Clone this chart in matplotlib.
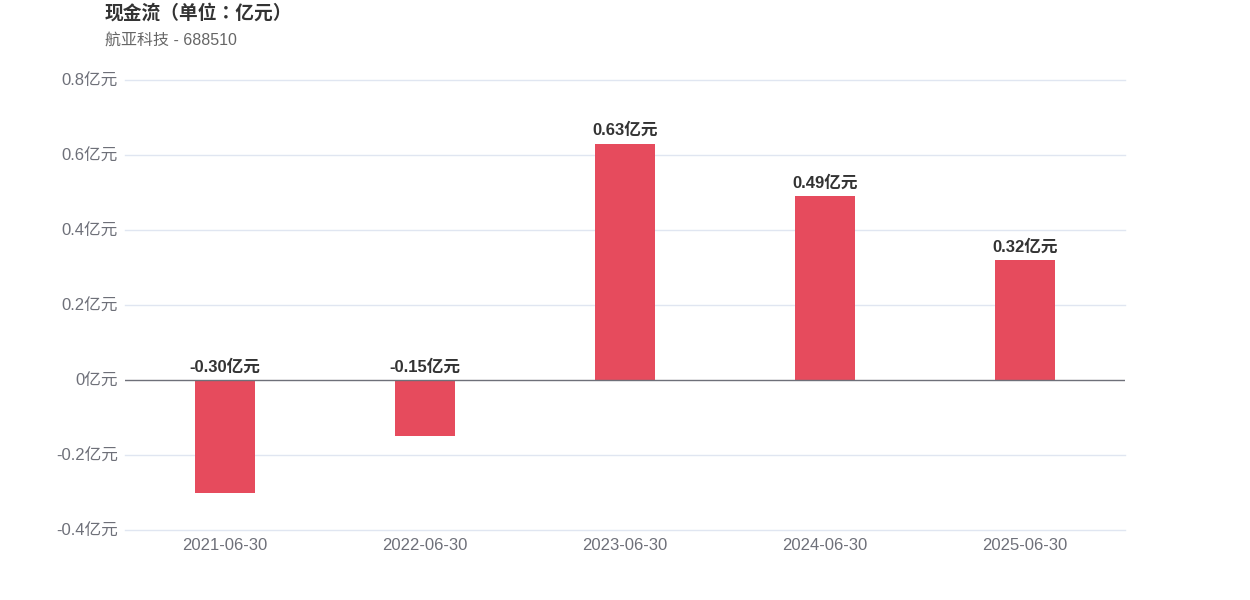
import matplotlib
matplotlib.use("Agg")
import matplotlib.pyplot as plt

plt.rcParams['font.family'] = ['Liberation Sans', 'Noto Sans CJK TC', 'DejaVu Sans']

dates = ["2021-06-30", "2022-06-30", "2023-06-30", "2024-06-30", "2025-06-30"]
cash_flow = [-0.30, -0.15, 0.63, 0.49, 0.32]
y_ticks = [-0.4, -0.2, 0, 0.2, 0.4, 0.6, 0.8]

bar_color = "#E64B5D"
axis_color = "#6E7079"
grid_color = "#E0E6F1"

fig = plt.figure(figsize=(12.5, 6), dpi=100)
ax = fig.add_axes([0.1, 1 - 530 / 600, 0.8, 450 / 600])

x = list(range(len(dates)))
ax.bar(x, cash_flow, width=0.3, color=bar_color, zorder=2)

for xi, v in zip(x, cash_flow):
    ax.annotate(f"{v:.2f}亿元", (xi, max(v, 0)), xytext=(0, 4), textcoords="offset points",
                ha="center", va="bottom", fontsize=12, fontweight="bold", color="#333333")

ax.set_xlim(-0.5, len(dates) - 0.5)
ax.set_ylim(-0.4, 0.8)
ax.set_yticks(y_ticks)
ax.set_yticklabels([f"{t:g}亿元" for t in y_ticks])
ax.set_xticks(x)
ax.set_xticklabels(dates)
ax.tick_params(axis="both", length=0, labelsize=12, labelcolor=axis_color)
ax.tick_params(axis="y", pad=5)
ax.tick_params(axis="x", pad=6)

for t in y_ticks:
    if t != 0:
        ax.axhline(t, color=grid_color, lw=1, zorder=0, clip_on=False)
ax.axhline(0, color=axis_color, lw=1, zorder=3)

for s in ax.spines.values():
    s.set_visible(False)

fig.text(105 / 1250, 1 - 13 / 600, "现金流（单位：亿元）", fontsize=13.5, fontweight="bold",
         color="#333333", ha="left", va="center")
fig.text(105 / 1250, 1 - 40 / 600, "航亚科技 - 688510", fontsize=11.5, color="#666666",
         ha="left", va="center")

fig.savefig("out.png", dpi=100)
